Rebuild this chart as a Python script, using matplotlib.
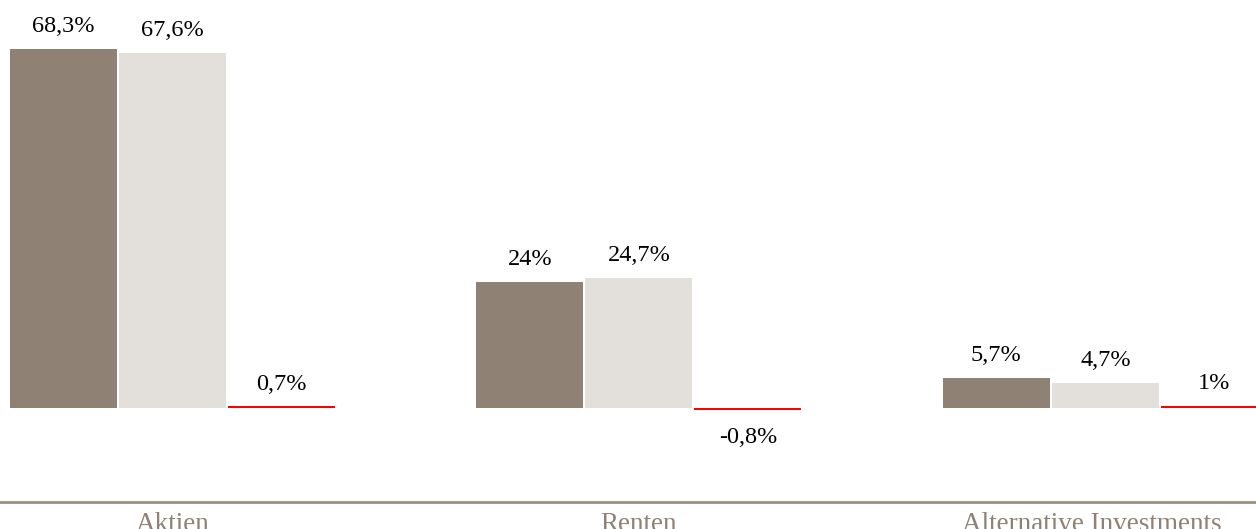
import numpy as np
from matplotlib import pyplot as plt
from matplotlib import transforms

kategorien = ["Aktien", "Renten", "Alternative Investments"]
werte_a = [68.3, 24.0, 5.7]
werte_b = [67.6, 24.7, 4.7]
differenz = [0.7, -0.8, 1.0]
labels_a = ["68,3%", "24%", "5,7%"]
labels_b = ["67,6%", "24,7%", "4,7%"]
labels_d = ["0,7%", "-0,8%", "1%"]

farbe_a = "#8f8274"
farbe_b = "#e3e0dc"
farbe_d = "#ff0000"
farbe_achse = "#9a8f83"

plt.rcParams["font.family"] = ["Liberation Serif", "DejaVu Serif"]

fig = plt.figure(figsize=(12.56, 5.29), dpi=100)
ax = fig.add_axes([0, (529 - 502) / 529, 1, 502 / 529])

x = np.arange(len(kategorien))
breite = 0.2294
abstand = 0.2337

ax.bar(x - abstand, werte_a, breite, color=farbe_a)
ax.bar(x, werte_b, breite, color=farbe_b)

ylim = (-17.9, 77.6)
ax.set_ylim(*ylim)
ax.set_xlim(-0.37, 2.323)

# differenz auf eigener skala
ax2 = ax.twinx()
faktor = 2.2
ax2.set_ylim(ylim[0] * faktor, ylim[1] * faktor)
ax2.bar(x + abstand, differenz, breite, color=farbe_d)

for xi, v, t in zip(x, werte_a, labels_a):
    ax.annotate(t, (xi - abstand, v), xytext=(0, 16), textcoords="offset points",
                ha="center", va="center", fontsize=17.5, color="black")
for xi, v, t in zip(x, werte_b, labels_b):
    ax.annotate(t, (xi, v), xytext=(0, 16), textcoords="offset points",
                ha="center", va="center", fontsize=17.5, color="black")
for xi, v, t in zip(x, differenz, labels_d):
    off = 16 if v >= 0 else -20
    ax2.annotate(t, (xi + abstand, v), xytext=(0, off), textcoords="offset points",
                 ha="center", va="center", fontsize=17.5, color="black")

for a in (ax, ax2):
    for s in ["top", "left", "right"]:
        a.spines[s].set_visible(False)
    a.set_yticks([])
ax2.spines["bottom"].set_visible(False)
ax.spines["bottom"].set_color(farbe_achse)
ax.spines["bottom"].set_linewidth(2)

ax.set_xticks(x)
ax.set_xticklabels(kategorien, fontsize=19.5, color=farbe_a)
ax.tick_params(axis="x", length=0, pad=7)
letzte = ax.get_xticklabels()[-1]
letzte.set_transform(letzte.get_transform() +
                     transforms.ScaledTranslation(-0.14, 0, fig.dpi_scale_trans))

fig.savefig("out.png", dpi=100)
